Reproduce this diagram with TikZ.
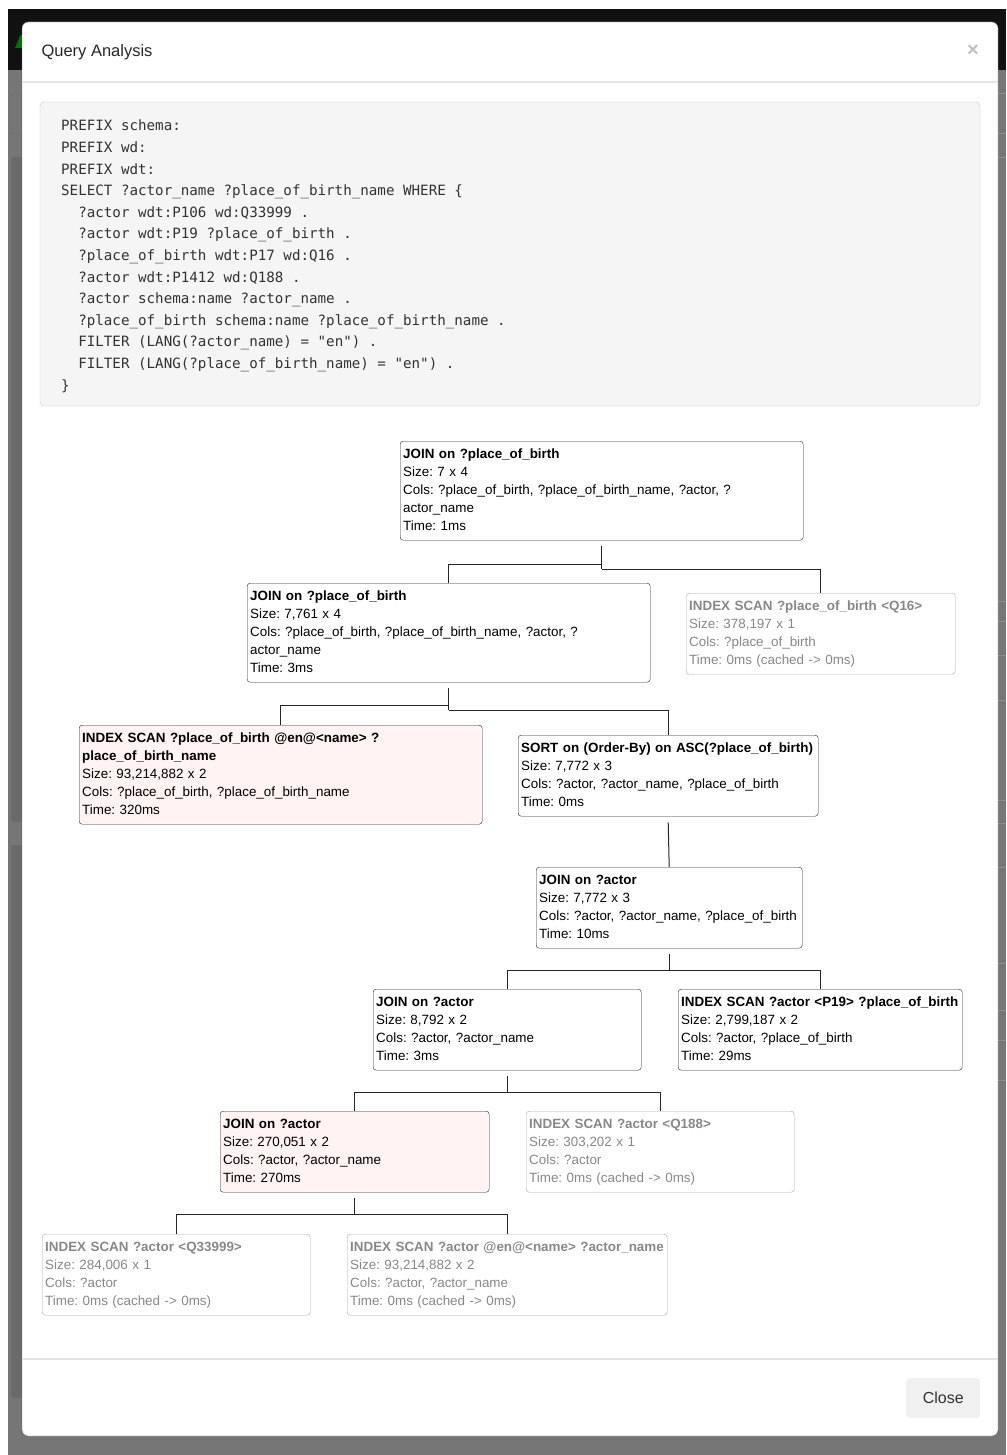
\documentclass[tikz,border=0pt]{standalone}
\usepackage{fontspec}
\setmainfont{Liberation Sans}
\newfontfamily\codefont{DejaVu Sans Mono}
\usetikzlibrary{calc,positioning}

\definecolor{pagegray}{RGB}{118,118,118}
\definecolor{panelgray}{RGB}{106,106,106}
\definecolor{panelline}{RGB}{140,140,140}
\definecolor{topbar}{RGB}{17,17,17}
\definecolor{ruleline}{RGB}{229,229,229}
\definecolor{codebg}{RGB}{245,245,245}
\definecolor{codeline}{RGB}{204,204,204}
\definecolor{codetext}{RGB}{51,51,51}
\definecolor{slowbg}{RGB}{255,243,243}
\definecolor{cachedline}{RGB}{168,168,168}
\definecolor{cachedtext}{RGB}{136,136,136}
\definecolor{btnbg}{RGB}{240,240,240}

\newcommand{\codeind}{\hspace*{17.1pt}}

\tikzset{
  plan/.style={draw=black!85, fill=white, rounded corners=3pt, anchor=north west,
    align=left, inner xsep=3pt, inner ysep=4.5pt, font=\fontsize{13.4}{18}\selectfont,
    execute at begin node=\strut, execute at end node=\strut},
  slow/.style={plan, fill=slowbg},
  cached/.style={plan, draw=cachedline, text=cachedtext},
  link/.style={line width=1pt, black!85}
}

\begin{document}
\frenchspacing
\begin{tikzpicture}[x=1pt, y=-1pt]
    \useasboundingbox (0,0) rectangle (1006,1455);
    % page behind the dialog
    \path[fill=pagegray] (0,0) rectangle (1006,1455);
    \path[fill=white] (0,0) rectangle (8,1455);
    \path[fill=white] (0,0) rectangle (1006,9);
    \path[fill=topbar] (8,9) rectangle (1006,70);
    \path[fill=green!45!black] (15,48) -- (20,36) -- (23,34) -- (23,48) -- cycle;
    \draw[panelgray, rounded corners=3pt] (11,94) rectangle (30,134);
    \path[fill=panelgray, rounded corners=3pt] (11,157) rectangle (30,822);
    \path[fill=panelgray, rounded corners=3pt] (11,845) rectangle (30,1398);
    \foreach \y in {93,133,157,601,621,655,700,800,823,867,963,1010,1040,1080}
        \draw[panelline] (998,\y) -- (1006,\y);

    % dialog
    \draw[black!60, fill=white, rounded corners=6pt] (22,22) rectangle (998,1436);
    \draw[ruleline, line width=1.5pt] (22.5,82) -- (997.5,82);
    \draw[ruleline, line width=1.5pt] (22.5,1359) -- (997.5,1359);
    \node[anchor=west, font=\fontsize{16.5}{20}\selectfont, text=black!85] (title) at (38,52) {Query Analysis};
    \node[font=\bfseries\fontsize{20}{20}\selectfont, text=black!25] (closex) at (973,51) {×};

    % query
    \draw[codeline, fill=codebg, rounded corners=4pt] (40,102) rectangle (980,406);
    \node[anchor=north west, inner sep=0pt, align=left, text=codetext,
          font=\codefont\fontsize{14.2}{21.6}\selectfont] (query) at (61,120) {%
        PREFIX schema:\\
        PREFIX wd:\\
        PREFIX wdt:\\
        SELECT ?actor\_name ?place\_of\_birth\_name WHERE \{\\
        \codeind ?actor wdt:P106 wd:Q33999 .\\
        \codeind ?actor wdt:P19 ?place\_of\_birth .\\
        \codeind ?place\_of\_birth wdt:P17 wd:Q16 .\\
        \codeind ?actor wdt:P1412 wd:Q188 .\\
        \codeind ?actor schema:name ?actor\_name .\\
        \codeind ?place\_of\_birth schema:name ?place\_of\_birth\_name .\\
        \codeind FILTER (LANG(?actor\_name) = "en") .\\
        \codeind FILTER (LANG(?place\_of\_birth\_name) = "en") .\\
        \}};

    % execution tree
    \node[plan, text width=397pt] (rootjoin) at (400,441)
        {\textbf{JOIN on ?place\_of\_birth}\\Size: 7 x 4\\Cols: ?place\_of\_birth, ?place\_of\_birth\_name, ?actor, ?\\actor\_name\\Time: 1ms};
    \node[plan, text width=397pt] (pobjoin) at (247,583)
        {\textbf{JOIN on ?place\_of\_birth}\\Size: 7,761 x 4\\Cols: ?place\_of\_birth, ?place\_of\_birth\_name, ?actor, ?\\actor\_name\\Time: 3ms};
    \node[cached, text width=263pt] (scanqsixteen) at (686,593)
        {\textbf{INDEX SCAN ?place\_of\_birth <Q16>}\\Size: 378,197 x 1\\Cols: ?place\_of\_birth\\Time: 0ms (cached -> 0ms)};
    \node[slow, text width=397pt] (scanpobname) at (79,725)
        {\textbf{INDEX SCAN ?place\_of\_birth @en@<name> ?}\\\textbf{place\_of\_birth\_name}\\Size: 93,214,882 x 2\\Cols: ?place\_of\_birth, ?place\_of\_birth\_name\\Time: 320ms};
    \node[plan, text width=294pt] (sortpob) at (518,735)
        {\textbf{SORT on (Order-By) on ASC(?place\_of\_birth)}\\Size: 7,772 x 3\\Cols: ?actor, ?actor\_name, ?place\_of\_birth\\Time: 0ms};
    \node[plan, text width=260pt] (actjoin) at (536,867)
        {\textbf{JOIN on ?actor}\\Size: 7,772 x 3\\Cols: ?actor, ?actor\_name, ?place\_of\_birth\\Time: 10ms};
    \node[plan, text width=262pt] (namejoin) at (373,989)
        {\textbf{JOIN on ?actor}\\Size: 8,792 x 2\\Cols: ?actor, ?actor\_name\\Time: 3ms};
    \node[plan, text width=278pt] (scanpnineteen) at (678,989)
        {\textbf{INDEX SCAN ?actor <P19> ?place\_of\_birth}\\Size: 2,799,187 x 2\\Cols: ?actor, ?place\_of\_birth\\Time: 29ms};
    \node[slow, text width=263pt] (occjoin) at (220,1111)
        {\textbf{JOIN on ?actor}\\Size: 270,051 x 2\\Cols: ?actor, ?actor\_name\\Time: 270ms};
    \node[cached, text width=262pt] (scanqlang) at (526,1111)
        {\textbf{INDEX SCAN ?actor <Q188>}\\Size: 303,202 x 1\\Cols: ?actor\\Time: 0ms (cached -> 0ms)};
    \node[cached, text width=262pt] (scanqactor) at (42,1234)
        {\textbf{INDEX SCAN ?actor <Q33999>}\\Size: 284,006 x 1\\Cols: ?actor\\Time: 0ms (cached -> 0ms)};
    \node[cached, text width=314pt] (scanactname) at (347,1234)
        {\textbf{INDEX SCAN ?actor @en@<name> ?actor\_name}\\Size: 93,214,882 x 2\\Cols: ?actor, ?actor\_name\\Time: 0ms (cached -> 0ms)};

    % connectors
    \coordinate (forkroot) at ($(rootjoin.south)+(0,29)$);
    \draw[link] ([yshift=-6pt]rootjoin.south) -- (forkroot);
    \draw[link] ([yshift=5pt]forkroot) -| (pobjoin.north);
    \draw[link] (forkroot) -| (scanqsixteen.north);
    \coordinate (forkpob) at ($(pobjoin.south)+(0,28)$);
    \draw[link] ([yshift=-6pt]pobjoin.south) -- (forkpob);
    \draw[link] ([yshift=5pt]forkpob) -| (scanpobname.north);
    \draw[link] (forkpob) -| (sortpob.north);
    \draw[link] ([yshift=-6pt]sortpob.south) -- (actjoin.north);
    \foreach \parent/\left/\right in {actjoin/namejoin/scanpnineteen, namejoin/occjoin/scanqlang, occjoin/scanqactor/scanactname} {
        \coordinate (fork) at ($(\parent.south)+(0,22)$);
        \draw[link] ([yshift=-6pt]\parent.south) -- (fork);
        \draw[link] (fork) -| (\left.north);
        \draw[link] (fork) -| (\right.north);
    }

    % footer
    \node[anchor=north west, fill=btnbg, rounded corners=4pt, minimum width=74pt, minimum height=40pt,
          text=codetext, font=\fontsize{16}{20}\selectfont] (closebtn) at (906,1378) {Close};
\end{tikzpicture}
\end{document}
